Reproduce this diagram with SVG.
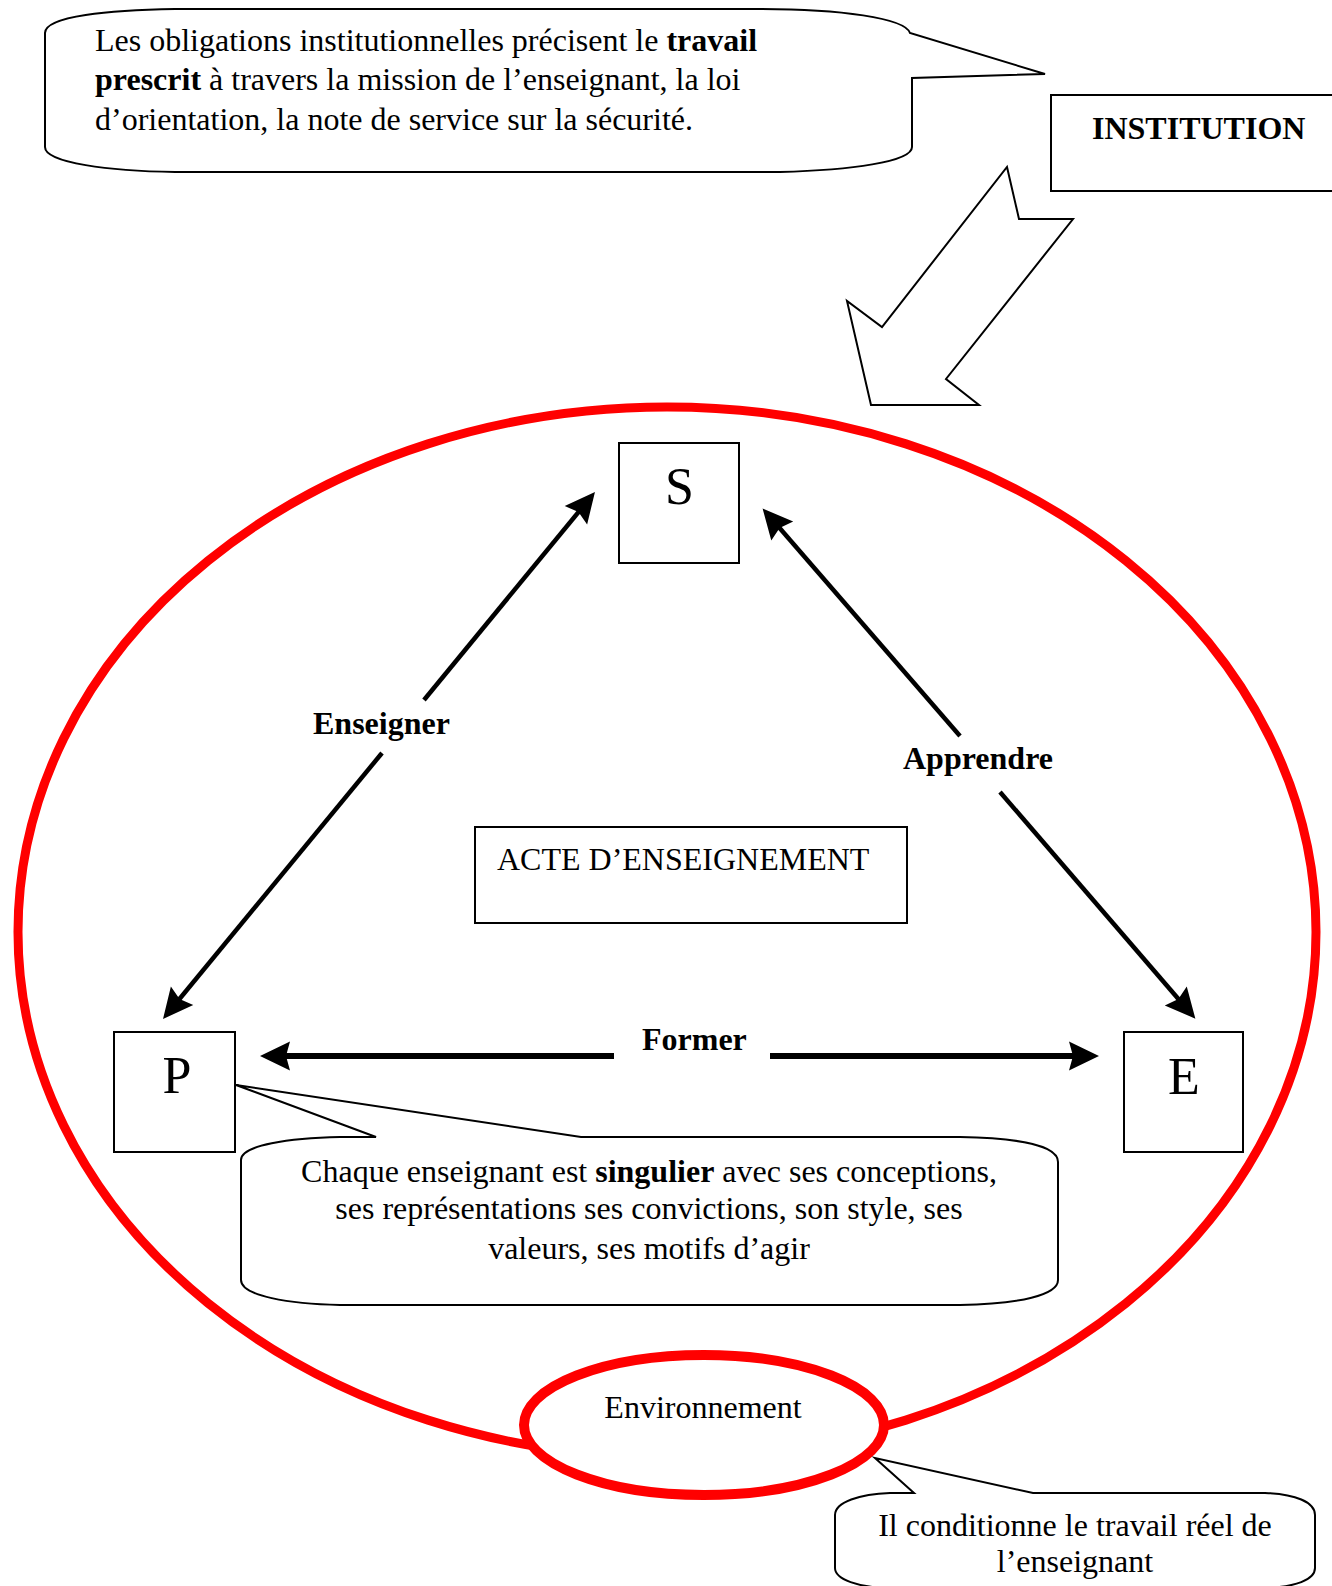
<svg xmlns="http://www.w3.org/2000/svg" width="1332" height="1586" viewBox="0 0 1332 1586">
  <style>
    .box { fill: #fff; stroke: #000; stroke-width: 2; }
    .callout { fill: #fff; stroke: #000; stroke-width: 2; stroke-linejoin: miter; }
    .t { font-family: "Liberation Serif", "Times New Roman", serif; font-size: 32px; fill: #000; }
    .big { font-size: 52px; }
    .b { font-weight: bold; }
    .ring { fill: none; stroke: #ff0000; stroke-width: 9; }
    .link { fill: none; stroke: #000; stroke-width: 4.5; marker-end: url(#head); }
    .link.thick { stroke-width: 6; }
  </style>
  <defs>
    <!-- barbed arrowhead: the line stops 22px short of the tip -->
    <marker id="head" markerUnits="userSpaceOnUse" viewBox="-10 -16 34 32" markerWidth="34" markerHeight="32" refX="0" refY="0" orient="auto">
      <path d="M22,0 L-8,-14.5 L-4,0 L-8,14.5 Z" fill="#000"/>
    </marker>
  </defs>

  <rect width="1332" height="1586" fill="#fff"/>

  <!-- environment ring around the teaching triangle -->
  <ellipse id="ring-environment" class="ring" cx="667" cy="932" rx="649" ry="525"/>

  <!-- prescribed-work callout -->
  <g id="callout-institution">
    <path class="callout" d="M45,33 C45,16 110,10 175,9 L760,9 C840,9 905,18 910,33 L1045,74 L912,78 L912,147 C912,162 850,170 780,172 L175,172 C110,171 45,163 45,147 Z"/>
    <text class="t" x="95" y="51">Les obligations institutionnelles précisent le <tspan class="b">travail</tspan></text>
    <text class="t" x="95" y="90"><tspan class="b">prescrit</tspan> à travers la mission de l’enseignant, la loi</text>
    <text class="t" x="95" y="130">d’orientation, la note de service sur la sécurité.</text>
  </g>

  <!-- institution node -->
  <g id="node-institution">
    <rect class="box" x="1051" y="95" width="300" height="96"/>
    <text class="t b" x="1092" y="139" font-size="31">INSTITUTION</text>
  </g>

  <!-- block arrow from the institution into the ring -->
  <g id="block-arrow">
    <polygon class="box" points="1007,167 1019,219 1073,219 946,379 979,405 871,405 847,301 882,327"/>
  </g>

  <!-- S node -->
  <g id="node-S">
    <rect class="box" x="619" y="443" width="120" height="120"/>
    <text class="t big" x="679.5" y="504" text-anchor="middle">S</text>
  </g>

  <!-- P node -->
  <g id="node-P">
    <rect class="box" x="114" y="1032" width="121" height="120"/>
    <text class="t big" x="177" y="1093" text-anchor="middle">P</text>
  </g>

  <!-- E node -->
  <g id="node-E">
    <rect class="box" x="1124" y="1032" width="119" height="120"/>
    <text class="t big" x="1184" y="1094" text-anchor="middle">E</text>
  </g>

  <!-- teaching act node -->
  <g id="node-acte">
    <rect class="box" x="475" y="827" width="432" height="96"/>
    <text class="t" x="497" y="870">ACTE D’ENSEIGNEMENT</text>
  </g>

  <!-- connectors of the triangle -->
  <g id="connectors">
    <line class="link" x1="424" y1="700" x2="581" y2="509"/>
    <line class="link" x1="382" y1="753" x2="177" y2="1002"/>
    <line class="link" x1="960" y1="736" x2="777" y2="525"/>
    <line class="link" x1="1000" y1="792" x2="1181" y2="1002"/>
    <line class="link thick" x1="614" y1="1056" x2="282" y2="1056"/>
    <line class="link thick" x1="770" y1="1056" x2="1077" y2="1056"/>
    <text class="t b" x="313" y="734">Enseigner</text>
    <text class="t b" x="903" y="769">Apprendre</text>
    <text class="t b" x="642" y="1050">Former</text>
  </g>

  <!-- teacher callout -->
  <g id="callout-singulier">
    <path class="callout" d="M241,1160 C241,1145 290,1138 340,1137 L376,1137 L236,1085 L581,1137 L960,1137 C1020,1138 1058,1146 1058,1162 L1058,1280 C1058,1295 1020,1304 960,1305 L340,1305 C290,1304 241,1296 241,1280 Z"/>
    <text class="t" x="649" y="1182" text-anchor="middle">Chaque enseignant est <tspan class="b">singulier</tspan> avec ses conceptions,</text>
    <text class="t" x="649" y="1219" text-anchor="middle">ses représentations ses convictions, son style, ses</text>
    <text class="t" x="649" y="1259" text-anchor="middle">valeurs, ses motifs d’agir</text>
  </g>

  <!-- environment node -->
  <g id="node-environnement">
    <ellipse cx="704" cy="1425" rx="180" ry="70" fill="#fff" stroke="#ff0000" stroke-width="10"/>
    <text class="t" x="703" y="1418" text-anchor="middle">Environnement</text>
  </g>

  <!-- environment callout -->
  <g id="callout-environnement">
    <path class="callout" d="M835,1515 C835,1502 860,1494 890,1493 L914,1493 L875,1458 L1033,1493 L1265,1493 C1295,1494 1315,1502 1315,1515 L1315,1568 C1315,1580 1295,1587 1265,1588 L885,1588 C860,1587 835,1580 835,1568 Z"/>
    <text class="t" x="1075" y="1536" text-anchor="middle">Il conditionne le travail réel de</text>
    <text class="t" x="1075" y="1572" text-anchor="middle">l’enseignant</text>
  </g>
</svg>
